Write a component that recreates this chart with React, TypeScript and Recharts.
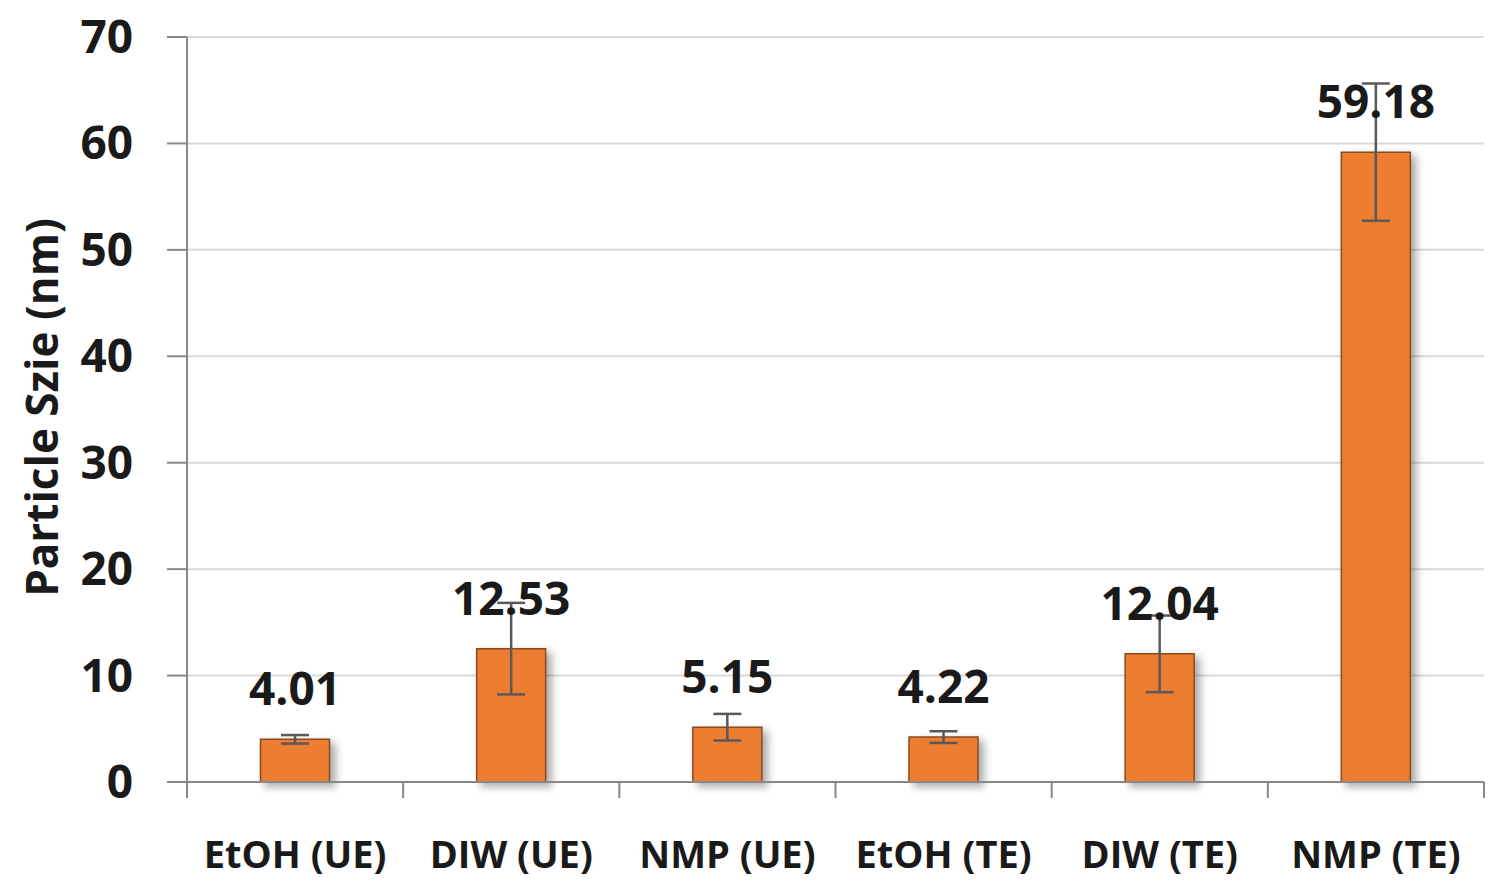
import React from 'react';
import { BarChart, Bar, XAxis, YAxis, CartesianGrid, ErrorBar, LabelList } from 'recharts';

const categories = ['EtOH (UE)', 'DIW (UE)', 'NMP (UE)', 'EtOH (TE)', 'DIW (TE)', 'NMP (TE)'];
const sizes = [4.01, 12.53, 5.15, 4.22, 12.04, 59.18];
const errors = [0.4, 4.3, 1.25, 0.55, 3.6, 6.45];
const yTicks = [0, 10, 20, 30, 40, 50, 60, 70];

const data = categories.map((c, i) => ({ name: c, v: sizes[i], e: errors[i] }));
const FONT = '"Open Sans", sans-serif';
const BAND = 1297 / 6;

const XTick = (p: any) => {
  const { x, y, payload, index } = p;
  return (
    <g>
      <line x1={x - BAND / 2} x2={x - BAND / 2} y1={y - 8} y2={y + 8} stroke="#888" strokeWidth={2} />
      {index === categories.length - 1 && (
        <line x1={x + BAND / 2} x2={x + BAND / 2} y1={y - 8} y2={y + 8} stroke="#888" strokeWidth={2} />
      )}
      <text x={x} y={y + 78} textAnchor="middle" fontFamily={FONT} fontWeight={700} fontSize={38} fill="#1a1a1a">
        {payload.value}
      </text>
    </g>
  );
};

const YTick = (p: any) => {
  const { x, y, payload } = p;
  return (
    <text x={x - 32} y={y + 16} textAnchor="end" fontFamily={FONT} fontWeight={700} fontSize={46} fill="#1a1a1a">
      {payload.value}
    </text>
  );
};

const ValLabel = (p: any) => {
  const { x, y, width, value } = p;
  return (
    <text x={x + width / 2} y={y - 34} textAnchor="middle" fontFamily={FONT} fontWeight={700} fontSize={46} fill="#1a1a1a">
      {value.toFixed(2)}
    </text>
  );
};

const YLabel = (p: any) => {
  const { viewBox } = p;
  const cy = viewBox.y + viewBox.height / 2 - 2;
  return (
    <text x={58} y={cy} transform={`rotate(-90 58 ${cy})`} textAnchor="middle" fontFamily={FONT} fontWeight={700} fontSize={44} fill="#1a1a1a">
      Particle Szie (nm)
    </text>
  );
};

export default function App() {
  return (
    <div style={{ position: 'absolute', left: 0, top: 0, background: '#fff' }}>
      <BarChart width={1501} height={887} data={data} margin={{ top: 37, right: 17, left: 0, bottom: 0 }} barCategoryGap="34%">
        <CartesianGrid vertical={false} stroke="#d9d9d9" strokeWidth={2} />
        <XAxis dataKey="name" tick={<XTick />} tickLine={false} axisLine={{ stroke: '#888', strokeWidth: 2 }} height={105} interval={0} />
        <YAxis
          domain={[0, 70]}
          ticks={yTicks}
          width={187}
          tickLine={{ stroke: '#888', strokeWidth: 2 }}
          tickSize={20}
          axisLine={{ stroke: '#888', strokeWidth: 2 }}
          tick={<YTick />}
          label={<YLabel />}
        />
        <YAxis yAxisId="r" orientation="right" domain={[0, 70]} width={0} tick={false} tickLine={false} axisLine={{ stroke: '#888', strokeWidth: 2 }} />
        <Bar dataKey="v" fill="#ED7D31" stroke="#8c4a1c" strokeWidth={1.5} isAnimationActive={false}
          style={{ filter: 'drop-shadow(5px 4px 4px rgba(0,0,0,0.35))' }}>
          <ErrorBar dataKey="e" width={14} stroke="#595959" strokeWidth={2.5} />
          <LabelList dataKey="v" content={<ValLabel />} />
        </Bar>
      </BarChart>
    </div>
  );
}
